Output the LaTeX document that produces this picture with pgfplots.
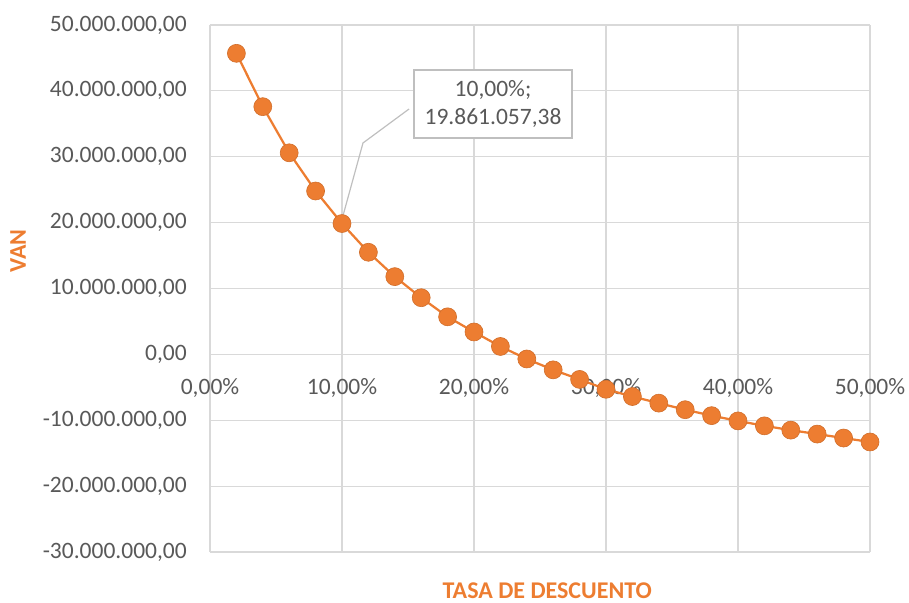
\documentclass[border=0pt]{standalone}
\usepackage{pgfplots}
\pgfplotsset{compat=1.18}
\usepackage{fontspec}
\setmainfont{Carlito}
\definecolor{orng}{HTML}{ED7D31}
\definecolor{txt}{HTML}{595959}
\definecolor{grd}{HTML}{D9D9D9}
\definecolor{bx}{HTML}{BFBFBF}
\begin{document}
\begin{tikzpicture}
\begin{axis}[
  scale only axis, width=660pt, height=527pt,
  xmin=0, xmax=0.5, ymin=-30000000, ymax=50000000,
  axis x line=middle, axis y line=left,
  axis line style={grd, line width=1.2pt, -},
  grid=major, grid style={grd, line width=1.2pt},
  major tick length=0pt,
  scaled ticks=false,
  xtick={0,0.1,0.2,0.3,0.4,0.5},
  xticklabels={{0,00\%},{10,00\%},{20,00\%},{30,00\%},{40,00\%},{50,00\%}},
  ytick={-30000000,-20000000,-10000000,0,10000000,20000000,30000000,40000000,50000000},
  yticklabels={{-30.000.000,00},{-20.000.000,00},{-10.000.000,00},{0,00},{10.000.000,00},{20.000.000,00},{30.000.000,00},{40.000.000,00},{50.000.000,00}},
  xticklabel style={font=\fontsize{23.5}{28}\selectfont, text=txt, anchor=north, inner sep=0pt, yshift=-23.5pt},
  yticklabel style={font=\fontsize{23.5}{28}\selectfont, text=txt, anchor=east, inner sep=0pt, xshift=-23pt},
  clip=false,
]
\addplot[orng, line width=2.25pt, mark=*, mark size=9pt,
  mark options={fill=orng, draw=orng!88!black, line width=0.6pt}] coordinates {
(0.02,45700000) (0.04,37600000) (0.06,30600000) (0.08,24800000) (0.10,19861057.38)
(0.12,15500000) (0.14,11800000) (0.16,8600000) (0.18,5700000) (0.20,3400000)
(0.22,1200000) (0.24,-700000) (0.26,-2350000) (0.28,-3800000) (0.30,-5300000)
(0.32,-6400000) (0.34,-7400000) (0.36,-8400000) (0.38,-9300000) (0.40,-10100000)
(0.42,-10850000) (0.44,-11500000) (0.46,-12100000) (0.48,-12700000) (0.50,-13300000)
};
\draw[bx, line width=1.2pt] (axis cs:0.1508,37250000) -- (axis cs:0.1159,32090000) -- (axis cs:0.1,20500000);
\node[draw=bx, line width=1.2pt, fill=white, minimum width=158pt, minimum height=68pt, align=center,
  font=\fontsize{23.5}{28}\selectfont, text=txt, inner sep=0pt] at (axis cs:0.2144,38010000) {10,00\%;\\19.861.057,38};
\node[font=\fontsize{23.5}{28}\selectfont, text=txt, anchor=north, inner sep=0pt] at ([yshift=-23.5pt]axis cs:0,0) {0,00\%};
\node[rotate=90, inner sep=0pt, font=\fontsize{24}{28}\selectfont\bfseries, text=orng] at ([xshift=-192pt]rel axis cs:0,0.571) {VAN};
\node[inner sep=0pt, font=\fontsize{24}{28}\selectfont\bfseries, text=orng] at ([yshift=-39pt]rel axis cs:0.511,0) {TASA DE DESCUENTO};
\coordinate (ll) at (rel axis cs:0,0);
\coordinate (ur) at (rel axis cs:1,1);
\end{axis}
\pgfresetboundingbox
\path[use as bounding box] ([shift={(-210pt,-51pt)}]ll) rectangle ([shift={(39pt,25pt)}]ur);
\end{tikzpicture}
\end{document}
